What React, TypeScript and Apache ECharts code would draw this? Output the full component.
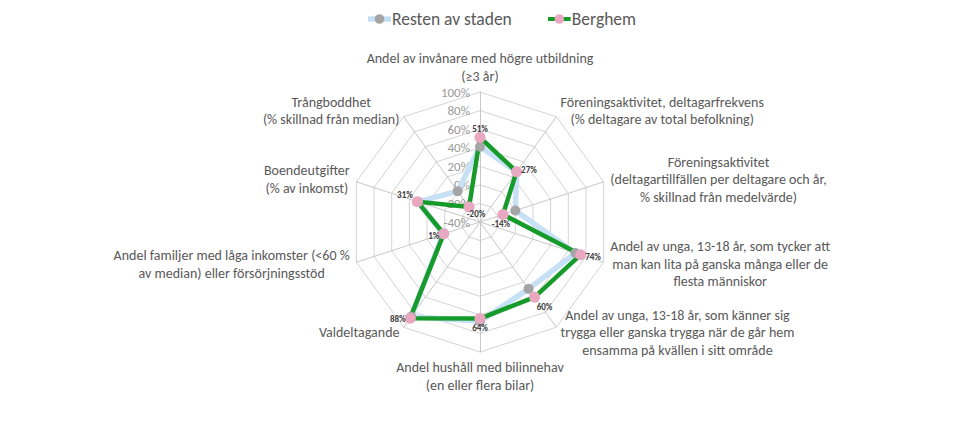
import React, { useEffect, useRef } from 'react';
import * as echarts from 'echarts';

// Categories in clockwise order, starting from the top
const categories: string[] = [
  'Andel av invånare med högre utbildning\n(≥3 år)',
  'Föreningsaktivitet, deltagarfrekvens\n(% deltagare av total befolkning)',
  'Föreningsaktivitet\n(deltagartillfällen per deltagare och år,\n% skillnad från medelvärde)',
  'Andel av unga, 13-18 år, som tycker att\nman kan lita på ganska många eller de\nflesta människor',
  'Andel av unga, 13-18 år, som känner sig\ntrygga eller ganska trygga när de går hem\nensamma på kvällen i sitt område',
  'Andel hushåll med bilinnehav\n(en eller flera bilar)',
  'Valdeltagande',
  'Andel familjer med låga inkomster (<60 %\nav median) eller försörjningsstöd',
  'Boendeutgifter\n(% av inkomst)',
  'Trångboddhet\n(% skillnad från median)',
];
const seriesNames: string[] = ['Resten av staden', 'Berghem'];
const restenValues: number[] = [41, 27, 0, 68, 49, 67, 86, 2, 30, 1];
const berghemValues: number[] = [51, 27, -14, 74, 60, 64, 88, 1, 31, -20];
const axisMin = -40;
const axisMax = 100;
const axisStep = 20;

const FONT = 'Carlito, Lato, "Liberation Sans", sans-serif';

const RESTEN_LINE = '#c6e0f5';
const RESTEN_MARK = '#a5a5a5';
const BERG_LINE = '#169b2b';
const BERG_MARK = '#e8a8c0';

// label placement per clockwise category (style, not data)
const labelPlacement: { position: string; offset: [number, number] }[] = [
  { position: 'top', offset: [0, 0] },
  { position: 'right', offset: [0, -2] },
  { position: 'bottom', offset: [-2, 0] },
  { position: 'right', offset: [0, 2] },
  { position: 'bottom', offset: [10, 0] },
  { position: 'bottom', offset: [0, 0] },
  { position: 'left', offset: [0, 0] },
  { position: 'left', offset: [0, 2] },
  { position: 'left', offset: [0, -7] },
  { position: 'bottom', offset: [7, -2] },
];

function legendIcon(line: string, mark: string, edge?: string) {
  const svg =
    `<svg xmlns="http://www.w3.org/2000/svg" width="24" height="12" viewBox="0 0 24 12">` +
    (edge ? `<line x1="0" y1="6" x2="24" y2="6" stroke="${edge}" stroke-width="5"/>` : '') +
    `<line x1="0" y1="6" x2="24" y2="6" stroke="${line}" stroke-width="${edge ? 3.5 : 4}"/>` +
    `<circle cx="12" cy="6" r="5" fill="${mark}"/></svg>`;
  return 'image://data:image/svg+xml;charset=utf-8,' + encodeURIComponent(svg);
}

export default function App() {
  const ref = useRef<HTMLDivElement>(null);
  useEffect(() => {
    if (!ref.current) return;
    const chart = echarts.init(ref.current, undefined, { renderer: 'svg' });
    const n = categories.length;
    // ECharts radar runs counter-clockwise: reorder to reproduce the clockwise layout
    const order = categories.map((_, i) => (i === 0 ? 0 : n - i));
    const reorder = (arr: any[]) => order.map((k) => arr[k]);

    const indicator = order.map((k, idx) => {
      const ind: any = { name: categories[k], min: axisMin, max: axisMax };
      if (idx === 0) {
        ind.axisLabel = {
          show: true,
          formatter: (v: number) => `${v}%`,
          color: '#999999',
          fontSize: 13,
          fontFamily: FONT,
          margin: 10,
        };
      }
      return ind;
    });

    const labelData = categories.map((_, k) => {
      const pos = order.indexOf(k);
      return {
        value: reorder(berghemValues),
        label: {
          show: true,
          position: labelPlacement[k].position,
          offset: labelPlacement[k].offset,
          distance: 4,
          fontSize: 9,
          fontWeight: 'bold',
          color: '#404040',
          fontFamily: FONT,
          formatter: (p: any) => {
            const dim = p.dimensionIndex;
            if (dim != null) return dim === pos ? `${berghemValues[k]}%` : '';
            return p.value === berghemValues[k] ? `${berghemValues[k]}%` : '';
          },
        },
      };
    });

    chart.setOption({
      animation: false,
      backgroundColor: '#ffffff',
      legend: {
        data: [
          { name: seriesNames[0], icon: legendIcon(RESTEN_LINE, RESTEN_MARK, '#a9cdec') },
          { name: seriesNames[1], icon: legendIcon(BERG_LINE, BERG_MARK) },
        ],
        top: 5,
        left: 363,
        itemGap: 36,
        itemWidth: 23,
        itemHeight: 12,
        textStyle: { fontSize: 17.5, color: '#595959', fontFamily: FONT, padding: [0, 0, 0, -4] },
      },
      radar: {
        center: [480, 222],
        radius: 130,
        startAngle: 90,
        shape: 'polygon',
        splitNumber: (axisMax - axisMin) / axisStep,
        nameGap: 7,
        axisName: {
          color: '#595959',
          fontSize: 14,
          fontFamily: FONT,
          formatter: (name: string) =>
            name
              .split('\n')
              .map((l) => `{c|${l}}`)
              .join('\n'),
          rich: {
            c: {
              align: 'center',
              fontSize: 14,
              lineHeight: 17.5,
              color: '#595959',
              fontFamily: FONT,
            },
          },
        },
        axisLine: { lineStyle: { color: '#c8c8c8', width: 1 } },
        splitLine: { lineStyle: { color: '#d4d4d4', width: 1 } },
        splitArea: { show: false },
        axisTick: { show: false },
        axisLabel: { show: false },
        indicator,
      },
      series: [
        {
          type: 'radar',
          name: seriesNames[0],
          symbol: 'circle',
          symbolSize: 10,
          itemStyle: { color: RESTEN_MARK },
          lineStyle: { color: RESTEN_LINE, width: 5.5 },
          data: [{ value: reorder(restenValues), name: seriesNames[0] }],
        },
        {
          type: 'radar',
          name: seriesNames[1],
          symbol: 'circle',
          symbolSize: 11,
          itemStyle: { color: BERG_MARK },
          lineStyle: { color: BERG_LINE, width: 4.5 },
          data: [{ value: reorder(berghemValues), name: seriesNames[1] }],
        },
        {
          type: 'radar',
          name: '__labels',
          silent: true,
          z: 5,
          symbol: 'circle',
          symbolSize: 1,
          itemStyle: { color: 'rgba(0,0,0,0)' },
          lineStyle: { color: 'rgba(0,0,0,0)', width: 0 },
          data: labelData,
        },
      ],
    });
    return () => chart.dispose();
  }, []);
  return (
    <div
      ref={ref}
      style={{ position: 'fixed', left: 0, top: 0, width: 960, height: 441, background: '#fff' }}
    />
  );
}
